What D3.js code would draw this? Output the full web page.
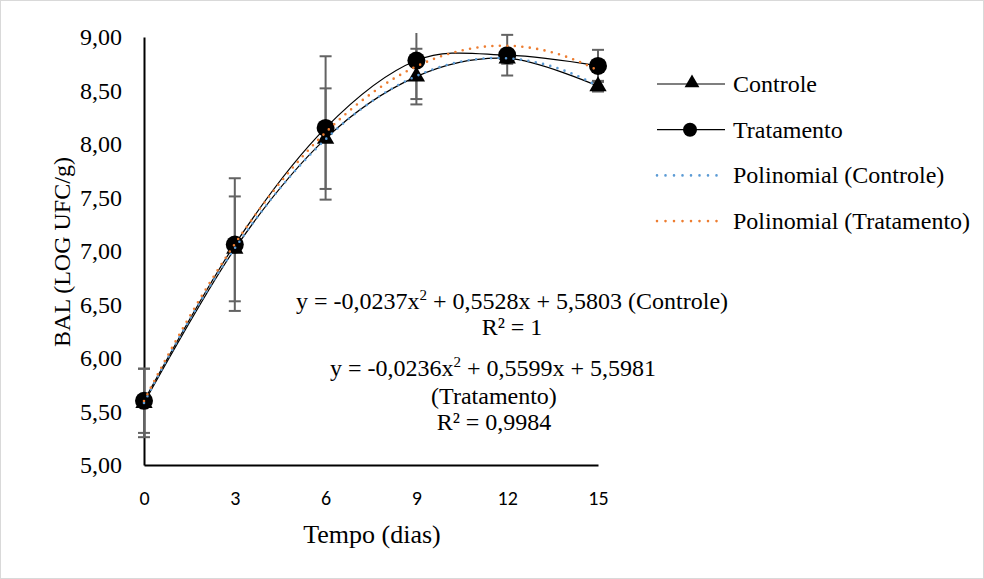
<!DOCTYPE html>
<html>
<head>
<meta charset="utf-8">
<script src="https://cdn.jsdelivr.net/npm/d3@7"></script>
<style>
  body { margin: 0; background: #fff; }
  svg { display: block; }
</style>
</head>
<body>
<svg id="chart" width="984" height="579"></svg>
<script>
// dias de armazenamento
var dias = [0, 3, 6, 9, 12, 15];
var yTicks = [5, 5.5, 6, 6.5, 7, 7.5, 8, 8.5, 9];

// BAL (log UFC/g)
var controle = [5.58, 7.02, 8.05, 8.63, 8.80, 8.54];
var tratamento = [5.60, 7.06, 8.15, 8.78, 8.83, 8.73];
var erroControle = [0.32, 0.49, 0.47, 0.26, 0.05, 0.05];
var erroTratamento = [0.30, 0.62, 0.67, 0.36, 0.19, 0.15];

// coeficientes dos polinomios (a x^2 + b x + c) tirados do grafico
var polyControle = [-0.0237, 0.5528, 5.5803];
var polyTratamento = [-0.0236, 0.5599, 5.5981];

var svg = d3.select("#chart");
var width = +svg.attr("width");
var height = +svg.attr("height");

svg.append("rect")
  .attr("x", 0.5).attr("y", 0.5)
  .attr("width", width - 1).attr("height", height - 1)
  .attr("fill", "#fff").attr("stroke", "#d9d9d9");

var x = d3.scaleLinear().domain([0, 15]).range([144, 598]);
var y = d3.scaleLinear().domain([5, 9]).range([465, 37]);

var serif = "'Liberation Serif', 'Times New Roman', serif";

// eixos (sem marcas)
var yAxis = svg.append("g").attr("transform", "translate(144,0)")
  .call(d3.axisLeft(y).tickValues(yTicks).tickSize(0).tickPadding(22)
    .tickFormat(function(d) { return d3.format(".2f")(d).replace(".", ","); }));
yAxis.select(".domain").attr("stroke", "#000").attr("stroke-width", 2);
yAxis.selectAll("text").attr("font-family", serif).attr("font-size", 24).attr("fill", "#000");

var xAxis = svg.append("g").attr("transform", "translate(0,465)")
  .call(d3.axisBottom(x).tickValues(dias).tickSize(0).tickPadding(26));
xAxis.select(".domain").attr("stroke", "#000").attr("stroke-width", 2);
xAxis.selectAll("text").attr("font-family", "Carlito, Lato, sans-serif").attr("font-size", 20).attr("fill", "#000");

svg.append("text").attr("x", 372).attr("y", 543).attr("text-anchor", "middle")
  .attr("font-family", serif).attr("font-size", 26).text("Tempo (dias)");
svg.append("text").attr("transform", "translate(70,252) rotate(-90)").attr("text-anchor", "middle")
  .attr("font-family", serif).attr("font-size", 24).text("BAL (LOG UFC/g)");

var plot = svg.append("g");
plot.append("clipPath").attr("id", "clip")
  .append("rect").attr("x", 130).attr("y", 33).attr("width", 490).attr("height", 444);

// barras de erro
function errorBars(vals, errs) {
  var g = plot.append("g").attr("clip-path", "url(#clip)")
    .attr("stroke", "#636363").attr("stroke-width", 2);
  dias.forEach(function(d, i) {
    var top = y(vals[i] + errs[i]), bot = y(vals[i] - errs[i]);
    g.append("line").attr("x1", x(d)).attr("x2", x(d)).attr("y1", top).attr("y2", bot);
    g.append("line").attr("x1", x(d) - 6).attr("x2", x(d) + 6).attr("y1", top).attr("y2", top);
    g.append("line").attr("x1", x(d) - 6).attr("x2", x(d) + 6).attr("y1", bot).attr("y2", bot);
  });
}
errorBars(controle, erroControle);
errorBars(tratamento, erroTratamento);

// linhas suavizadas
var line = d3.line()
  .x(function(d, i) { return x(dias[i]); })
  .y(function(d) { return y(d); })
  .curve(d3.curveCatmullRom.alpha(0));

plot.append("path").datum(controle).attr("d", line)
  .attr("fill", "none").attr("stroke", "#000").attr("stroke-width", 1.2);
plot.append("path").datum(tratamento).attr("d", line)
  .attr("fill", "none").attr("stroke", "#000").attr("stroke-width", 1.2);

// marcadores
var tri = d3.symbol().type(d3.symbolTriangle).size(130);
var triSmall = d3.symbol().type(d3.symbolTriangle).size(95);
plot.selectAll(".tri").data(controle).join("path")
  .attr("class", "tri")
  .attr("transform", function(d, i) { return "translate(" + x(dias[i]) + "," + y(d) + ")"; })
  .attr("d", tri).attr("fill", "#000");
plot.selectAll(".circ").data(tratamento).join("circle")
  .attr("class", "circ")
  .attr("cx", function(d, i) { return x(dias[i]); })
  .attr("cy", function(d) { return y(d); })
  .attr("r", 9).attr("fill", "#000");

// linhas de tendencia polinomial
function polyLine(coef) {
  var xs = d3.range(0, 15.01, 0.25);
  return d3.line()
    .x(function(t) { return x(t); })
    .y(function(t) { return y(coef[0] * t * t + coef[1] * t + coef[2]); })(xs);
}
plot.append("path").attr("d", polyLine(polyControle))
  .attr("fill", "none").attr("stroke", "#5B9BD5").attr("stroke-width", 2.6)
  .attr("stroke-linecap", "round").attr("stroke-dasharray", "0 7.5");
plot.append("path").attr("d", polyLine(polyTratamento))
  .attr("fill", "none").attr("stroke", "#ED7D31").attr("stroke-width", 2.6)
  .attr("stroke-linecap", "round").attr("stroke-dasharray", "0 7.5");

// equacoes
var eqs = svg.append("g").attr("font-family", serif).attr("font-size", 24).attr("text-anchor", "middle");
function equation(cx, cy, parts) {
  var t = eqs.append("text").attr("x", cx).attr("y", cy);
  t.append("tspan").text(parts[0]);
  t.append("tspan").attr("font-size", 15).attr("dy", -9).text("2");
  t.append("tspan").attr("dy", 9).text(parts[1]);
}
equation(512, 309, ["y = -0,0237x", " + 0,5528x + 5,5803 (Controle)"]);
eqs.append("text").attr("x", 512).attr("y", 335).text("R² = 1");
equation(493, 376, ["y = -0,0236x", " + 0,5599x + 5,5981"]);
eqs.append("text").attr("x", 494).attr("y", 404).text("(Tratamento)");
eqs.append("text").attr("x", 494).attr("y", 430).text("R² = 0,9984");

// legenda
var legendItems = ["Controle", "Tratamento", "Polinomial (Controle)", "Polinomial (Tratamento)"];
var legend = svg.append("g").attr("font-family", serif).attr("font-size", 24);
legendItems.forEach(function(name, i) {
  var ly = 84 + i * 45.7;
  var g = legend.append("g").attr("transform", "translate(0," + ly + ")");
  if (i < 2) {
    g.append("line").attr("x1", 657).attr("x2", 725).attr("stroke", "#000").attr("stroke-width", 1.2);
    if (i === 0) g.append("path").attr("d", triSmall).attr("transform", "translate(692,-1)").attr("fill", "#000");
    else g.append("circle").attr("cx", 690).attr("r", 7).attr("fill", "#000");
  } else {
    g.append("line").attr("x1", 657).attr("x2", 725)
      .attr("stroke", i === 2 ? "#5B9BD5" : "#ED7D31").attr("stroke-width", 2.6)
      .attr("stroke-linecap", "round").attr("stroke-dasharray", "0 8.5");
  }
  g.append("text").attr("x", 733).attr("y", 8).text(name);
});
</script>
</body>
</html>
